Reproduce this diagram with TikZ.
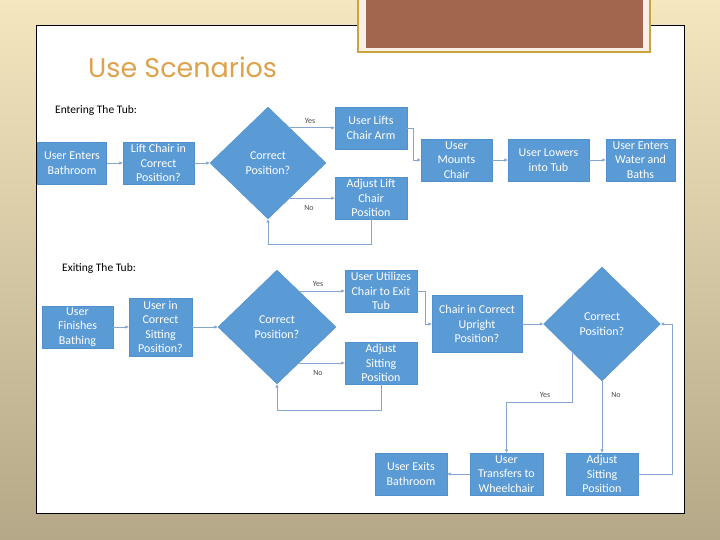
\documentclass[tikz,border=0pt]{standalone}
\usepackage{fontspec}
\setmainfont{Carlito}
\newfontfamily\titlefont{Poppins}
\usetikzlibrary{shapes.geometric, arrows.meta, calc}
\definecolor{ofblue}{HTML}{5B9BD5}
\definecolor{ofedge}{HTML}{5090CC}
\definecolor{oflink}{HTML}{86A6CF}
\definecolor{slidegold}{HTML}{C9A53C}
\definecolor{slidecream}{HTML}{F8F0E6}
\definecolor{slidebrown}{HTML}{A2654E}
\definecolor{titleorange}{HTML}{DDA24C}
\definecolor{bgtop}{HTML}{F4E6BE}
\definecolor{bgbot}{HTML}{B4A888}

\begin{document}
\begin{tikzpicture}[x=1pt, y=-1pt,
    stepbox/.style={draw=ofedge, fill=ofblue, text=white, align=center,
      font=\fontsize{12}{14.5}\selectfont, inner sep=0pt, minimum height=42pt},
    decision/.style={diamond, draw=ofedge, fill=ofblue, text=white, align=center,
      font=\fontsize{12}{14.5}\selectfont, inner sep=0pt},
    flow/.style={draw=oflink, line width=0.9pt, -{Triangle[length=3.5pt, width=3pt]}},
    tag/.style={font=\fontsize{8}{9}\selectfont, text=black!70},
    heading/.style={font=\fontsize{11.5}{13}\selectfont, anchor=west, inner sep=0pt}]
  \useasboundingbox (0,0) rectangle (720,540);
  % slide
  \shade[top color=bgtop, bottom color=bgbot] (0,0) rectangle (720,540);
  \draw[fill=white, line width=1pt] (36,26) rectangle (684,513);
  \draw[draw=slidegold, fill=slidecream, line width=1.5pt] (358,-5) rectangle (650,52);
  \fill[slidebrown] (366,-5) rectangle (643,48);
  \node[font=\titlefont\fontsize{27}{30}\selectfont, text=titleorange,
        anchor=base west, inner sep=0pt] (title) at (88,78) {Use Scenarios};

  % entering the tub
  \node[heading] (enterhead) at (55,110) {Entering The Tub:};
  \node[stepbox, minimum width=69pt] (enter) at (72,163) {User Enters\\Bathroom};
  \node[stepbox, minimum width=71pt] (liftpos) at (158.5,163) {Lift Chair in\\Correct\\Position?};
  \node[decision, minimum width=116pt, minimum height=112pt] (check1) at (268,163) {Correct\\Position?};
  \node[stepbox, minimum width=72pt] (liftarm) at (371,128) {User Lifts\\Chair Arm};
  \node[stepbox, minimum width=72pt] (adjlift) at (371,198) {Adjust Lift\\Chair\\Position};
  \node[stepbox, minimum width=71pt] (mount) at (456.5,160) {User\\Mounts\\Chair};
  \node[stepbox, minimum width=81pt] (lower) at (548.5,160) {User Lowers\\into Tub};
  \node[stepbox, minimum width=69pt] (water) at (640.5,160) {User Enters\\Water and\\Baths};

  \coordinate (yes1) at ($(check1.east)!0.625!(check1.north)$);
  \coordinate (no1) at ($(check1.east)!0.625!(check1.south)$);
  \draw[flow] (enter) -- (liftpos);
  \draw[flow] (liftpos) -- (check1);
  \draw[flow] (yes1) -- (yes1 -| liftarm.west);
  \draw[flow] (no1) -- (no1 -| adjlift.west);
  \draw[flow] (adjlift.south) -- ++(0,25) -| (check1.south);
  \draw[flow] (liftarm.east) -- ++(6,0) |- (mount.west);
  \draw[flow] (mount) -- (lower);
  \draw[flow] (lower) -- (water);
  \node[tag] (yestag1) at (310,121) {Yes};
  \node[tag] (notag1) at (309,208) {No};

  % exiting the tub
  \node[heading] (exithead) at (62,268) {Exiting The Tub:};
  \node[stepbox, minimum width=71pt] (finish) at (77.5,327) {User\\Finishes\\Bathing};
  \node[stepbox, minimum width=63pt, minimum height=58pt] (sitpos) at (160.5,327) {User in\\Correct\\Sitting\\Position?};
  \node[decision, minimum width=118pt, minimum height=114pt] (check2) at (277,327) {Correct\\Position?};
  \node[stepbox, minimum width=72pt] (utilize) at (381,291) {User Utilizes\\Chair to Exit\\Tub};
  \node[stepbox, minimum width=72pt] (adjsit) at (381,363) {Adjust\\Sitting\\Position};
  \node[stepbox, minimum width=90pt, minimum height=57pt] (upright) at (477,324) {Chair in Correct\\Upright\\Position?};
  \node[decision, minimum width=117pt, minimum height=114pt] (check3) at (602,324) {Correct\\Position?};
  \node[stepbox, minimum width=72pt] (leave) at (411,474) {User Exits\\Bathroom};
  \node[stepbox, minimum width=73pt] (transfer) at (506.5,474) {User\\Transfers to\\Wheelchair};
  \node[stepbox, minimum width=72pt] (adjsit2) at (602,474) {Adjust\\Sitting\\Position};

  \coordinate (yes2) at ($(check2.east)!0.63!(check2.north)$);
  \coordinate (no2) at ($(check2.east)!0.63!(check2.south)$);
  \draw[flow] (finish) -- (sitpos);
  \draw[flow] (sitpos) -- (check2);
  \draw[flow] (yes2) -- (yes2 -| utilize.west);
  \draw[flow] (no2) -- (no2 -| adjsit.west);
  \draw[flow] (adjsit.south) -- ++(0,26) -| (check2.south);
  \draw[flow] (utilize.east) -- ++(8,0) |- (upright.west);
  \draw[flow] (upright) -- (check3);
  \draw[flow] (check3.south west) -- ++(0,50) -| (transfer.north);
  \draw[flow] (check3.south) -- (adjsit2.north);
  \draw[flow] (adjsit2.east) -- ++(34,0) |- (check3.east);
  \draw[flow] (transfer) -- (leave);
  \node[tag] (yestag2) at (318,284) {Yes};
  \node[tag] (notag2) at (318,373) {No};
  \node[tag] (yestag3) at (545,395) {Yes};
  \node[tag] (notag3) at (616,395) {No};
\end{tikzpicture}
\end{document}
